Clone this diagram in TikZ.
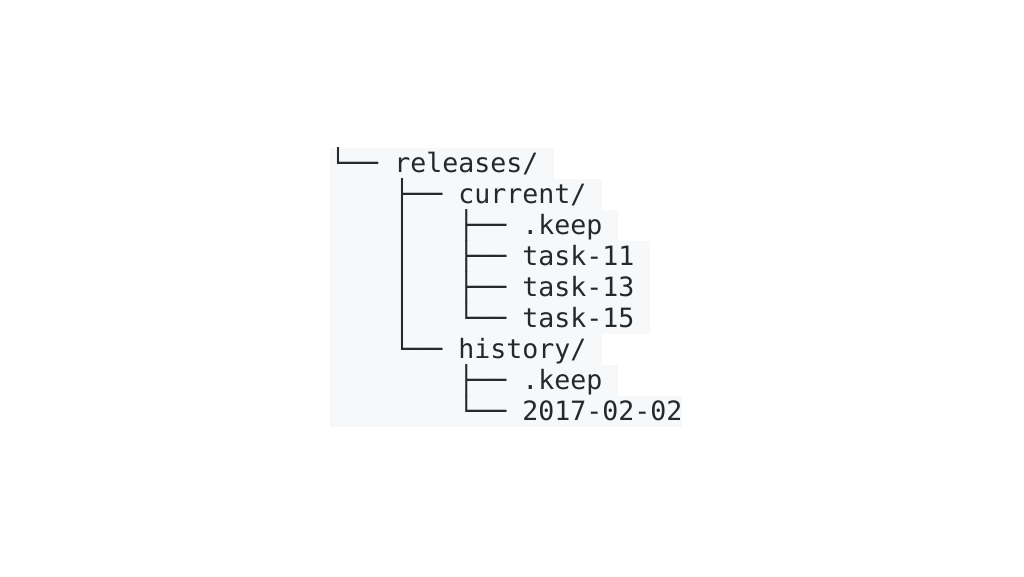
\documentclass[tikz,border=0pt]{standalone}
\usepackage{fontspec}
\newfontfamily\treemono{DejaVu Sans Mono}
\definecolor{codebg}{HTML}{F6F8FA}
\definecolor{codefg}{HTML}{24292E}
\begin{document}
\begin{tikzpicture}[x=1pt,y=1pt,
  rowtext/.style={anchor=base west, inner sep=0pt,
    font=\treemono\fontsize{26.6}{31}\selectfont, text=codefg},
  rowbg/.style={fill=codebg}]
\useasboundingbox (0,0) rectangle (1024,576);
\fill[white] (0,0) rectangle (1024,576);
% row backgrounds (row i spans y from 428-31i down to 397-31i)
\foreach \i/\n in {0/14,1/17,2/18,3/20,4/20,5/20,6/17,7/18,8/22}
  \fill[rowbg] (330,{428-31*\i}) rectangle ({330+16.01*\n},{397-31*\i});
% rows of the tree (baseline = 403.3 - 31 i)
\node[rowtext] (r0) at (330,403.3) {└──\ releases/};
\node[rowtext] (r1) at (394.04,372.3) {├──\ current/};
\node[rowtext] (r2) at (394.04,341.3) {│\ \ \ ├──\ .keep};
\node[rowtext] (r3) at (394.04,310.3) {│\ \ \ ├──\ task-11};
\node[rowtext] (r4) at (394.04,279.3) {│\ \ \ ├──\ task-13};
\node[rowtext] (r5) at (394.04,248.3) {│\ \ \ └──\ task-15};
\node[rowtext] (r6) at (394.04,217.3) {└──\ history/};
\node[rowtext] (r7) at (458.08,186.3) {├──\ .keep};
\node[rowtext] (r8) at (458.08,155.3) {└──\ 2017-02-02};
\end{tikzpicture}
\end{document}
